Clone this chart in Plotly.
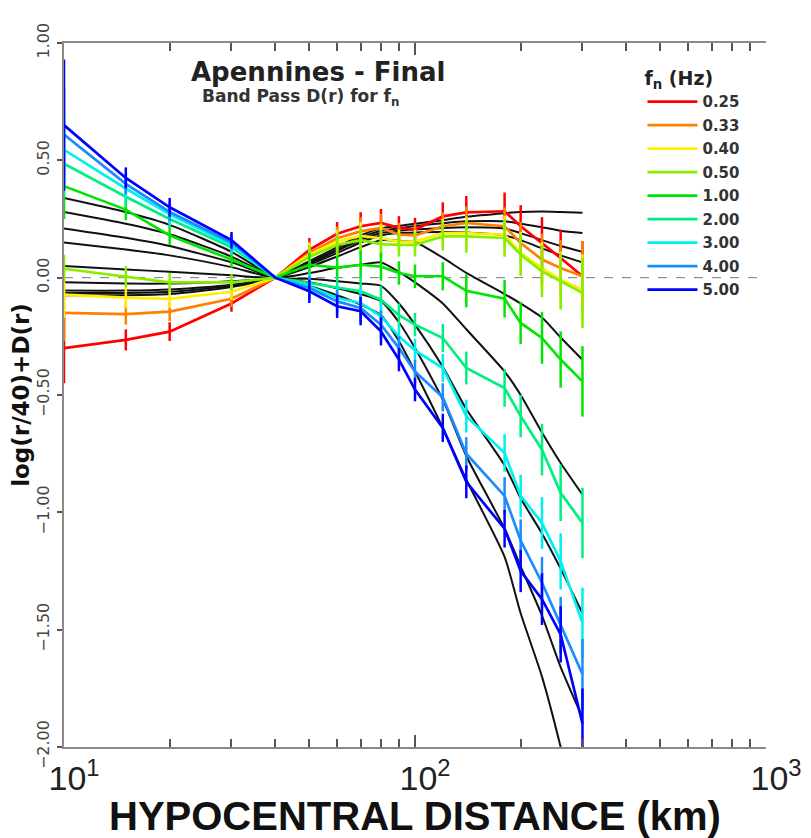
import plotly.graph_objects as go

# ---------------- data ----------------
distance_km = [10, 15, 20, 30, 40, 50, 60, 70, 80, 90, 100, 120, 140, 180, 200, 230, 260, 300]

freq_labels = ["0.25", "0.33", "0.40", "0.50", "1.00", "2.00", "3.00", "4.00", "5.00"]
freq_colors = ["#ff0000", "#ff8000", "#ffee00", "#88ee00", "#00e600", "#00f080", "#00f0f0", "#1a8cff", "#0000ff"]

obs_025 = [-0.30, -0.265, -0.23, -0.11, 0, 0.119, 0.187, 0.219, 0.233, 0.212, 0.205, 0.261, 0.278, 0.283, 0.219, 0.148, 0.084, 0.006]
obs_033 = [-0.15, -0.155, -0.145, -0.09, 0, 0.105, 0.168, 0.197, 0.212, 0.183, 0.18, 0.219, 0.233, 0.219, 0.148, 0.077, 0.041, 0.006]
obs_040 = [-0.072, -0.085, -0.09, -0.06, 0, 0.098, 0.154, 0.178, 0.168, 0.154, 0.154, 0.19, 0.19, 0.183, 0.105, 0.041, -0.009, -0.051]
obs_050 = [0.038, 0.004, -0.02, -0.02, 0, 0.088, 0.14, 0.16, 0.143, 0.14, 0.14, 0.176, 0.176, 0.169, 0.098, 0.027, -0.016, -0.065]
obs_100 = [0.39, 0.29, 0.18, 0.077, 0, 0.055, 0.043, 0.055, 0.047, 0.02, 0.006, 0.006, -0.056, -0.09, -0.193, -0.257, -0.349, -0.442]
obs_200 = [0.486, 0.345, 0.25, 0.13, 0, -0.023, -0.044, -0.058, -0.094, -0.16, -0.20, -0.257, -0.385, -0.47, -0.59, -0.733, -0.917, -1.045]
obs_300 = [0.545, 0.38, 0.27, 0.14, 0, -0.037, -0.087, -0.108, -0.165, -0.25, -0.31, -0.385, -0.59, -0.747, -0.93, -1.045, -1.209, -1.471]
obs_400 = [0.61, 0.40, 0.28, 0.15, 0, -0.044, -0.101, -0.129, -0.20, -0.30, -0.40, -0.51, -0.75, -0.93, -1.12, -1.30, -1.48, -1.69]
obs_500 = [0.65, 0.425, 0.30, 0.16, 0, -0.058, -0.122, -0.143, -0.229, -0.349, -0.477, -0.64, -0.87, -1.07, -1.25, -1.37, -1.52, -1.90]
observed = [obs_025, obs_033, obs_040, obs_050, obs_100, obs_200, obs_300, obs_400, obs_500]

# standard errors at each distance (first node differs per frequency)
err_nodes = [0.0, 0.045, 0.04, 0.035, 0.0, 0.05, 0.05, 0.06, 0.06, 0.05, 0.05, 0.06, 0.07, 0.08, 0.09, 0.11, 0.12, 0.15]
err_first = [0.15, 0.12, 0.10, 0.06, 0.14, 0.14, 0.15, 0.20, 0.28]

# model curves (black)
mod_025 = [-0.075, -0.075, -0.07, -0.04, 0, 0.07, 0.13, 0.18, 0.21, 0.22, 0.23, 0.245, 0.26, 0.275, 0.28, 0.282, 0.28, 0.277]
mod_033 = [-0.065, -0.065, -0.06, -0.035, 0, 0.065, 0.12, 0.17, 0.20, 0.21, 0.22, 0.232, 0.24, 0.24, 0.23, 0.215, 0.20, 0.19]
mod_040 = [-0.055, -0.055, -0.05, -0.03, 0, 0.06, 0.115, 0.16, 0.19, 0.20, 0.205, 0.212, 0.215, 0.21, 0.19, 0.16, 0.135, 0.11]
mod_050 = [-0.02, -0.025, -0.025, -0.015, 0, 0.055, 0.105, 0.15, 0.18, 0.19, 0.193, 0.195, 0.192, 0.18, 0.16, 0.125, 0.095, 0.065]
mod_100 = [0.05, 0.035, 0.025, 0.01, 0, 0.045, 0.09, 0.13, 0.16, 0.157, 0.152, 0.085, 0.02, -0.07, -0.11, -0.17, -0.255, -0.35]
mod_200 = [0.15, 0.12, 0.095, 0.045, 0, 0.02, 0.042, 0.055, 0.065, 0.025, -0.02, -0.11, -0.22, -0.40, -0.50, -0.66, -0.79, -0.925]
mod_300 = [0.21, 0.17, 0.135, 0.065, 0, -0.005, -0.015, -0.025, -0.035, -0.11, -0.20, -0.38, -0.56, -0.80, -0.94, -1.09, -1.24, -1.43]
mod_400 = [0.28, 0.23, 0.185, 0.09, 0, -0.02, -0.045, -0.07, -0.10, -0.19, -0.30, -0.52, -0.76, -1.07, -1.23, -1.44, -1.66, -1.875]
mod_500 = [0.34, 0.28, 0.225, 0.11, 0, -0.035, -0.075, -0.115, -0.16, -0.27, -0.40, -0.64, -0.86, -1.19, -1.43, -1.70, -2.00, -2.40]
models = [mod_025, mod_033, mod_040, mod_050, mod_100, mod_200, mod_300, mod_400, mod_500]

x_tick_vals = [10, 100, 1000]
x_tick_text = ["10<sup>1</sup>", "10<sup>2</sup>", "10<sup>3</sup>"]
x_minor_vals = [20, 30, 40, 50, 60, 70, 80, 90, 200, 300, 400, 500, 600, 700, 800, 900]
y_tick_vals = [-2.0, -1.5, -1.0, -0.5, 0.0, 0.5, 1.0]

# ---------------- figure ----------------
fig = go.Figure()

for m in models:
    fig.add_trace(go.Scatter(
        x=distance_km, y=m, mode="lines",
        line=dict(color="#111111", width=2, shape="spline", smoothing=0.6),
        showlegend=False, hoverinfo="skip"))

for lab, col, obs, e0 in zip(freq_labels, freq_colors, observed, err_first):
    errs = [e0] + err_nodes[1:]
    fig.add_trace(go.Scatter(
        x=distance_km, y=obs, mode="lines", name=lab, legendgroup=lab,
        line=dict(color=col, width=2.7),
        error_y=dict(type="data", array=errs, visible=True, color=col, thickness=2.5, width=0)))

fig.add_hline(y=0, line=dict(color="#777777", width=1, dash="dash"), layer="below")

# the page body adds an 8px offset; figure is sized so the plot lands where the reference has it
axis_col = "#8a8a8a"
fig.update_layout(
    width=803, height=830,
    margin=dict(l=56, r=45, t=35, b=91),
    paper_bgcolor="white", plot_bgcolor="white",
    font=dict(family="Liberation Sans", color="#222222"),
    xaxis=dict(
        type="log", range=[1, 3], automargin=False,
        tickmode="array", tickvals=x_tick_vals, ticktext=x_tick_text,
        ticks="inside", ticklen=12, tickwidth=1.5, tickcolor="#555555",
        minor=dict(tickvals=x_minor_vals, ticks="inside", ticklen=8, tickwidth=1.5, tickcolor="#555555"),
        showline=True, linecolor=axis_col, linewidth=2, mirror="ticks",
        showgrid=False, zeroline=False,
        tickfont=dict(family="Liberation Sans", size=34, color="#222222"),
        ticklabelshift=10, ticklabelstandoff=0,
    ),
    yaxis=dict(
        range=[-2, 1], automargin=False,
        tickmode="array", tickvals=y_tick_vals, tickformat=".2f",
        ticks="outside", ticklen=5, tickwidth=1.5, tickcolor="#555555", tickangle=-90,
        showline=True, linecolor=axis_col, linewidth=2,
        showgrid=False, zeroline=False,
        tickfont=dict(family="DejaVu Sans", size=16, color="#444444"),
        ticklabelstandoff=2,
        title=dict(text="log(r/40)+D(r)", standoff=4,
                   font=dict(family="DejaVu Sans", size=23, weight="bold", color="#111111")),
    ),
    yaxis2=dict(
        range=[-2, 1], overlaying="y", side="right", anchor="x", automargin=False,
        tickmode="array", tickvals=y_tick_vals,
        ticks="inside", ticklen=7, tickwidth=1.5, tickcolor="#555555",
        showticklabels=False, showline=True, linecolor=axis_col, linewidth=2,
        showgrid=False, zeroline=False,
    ),
    legend=dict(
        x=0.824, xanchor="left", y=0.975, yanchor="top",
        bgcolor="rgba(0,0,0,0)", borderwidth=0,
        tracegroupgap=1, itemwidth=50,
        font=dict(family="DejaVu Sans", size=15, weight="bold", color="#333333"),
        title=dict(text="f<sub>n</sub> (Hz)", side="top",
                   font=dict(family="DejaVu Sans", size=19, weight="bold", color="#222222")),
    ),
    showlegend=True,
)

fig.add_annotation(xref="paper", yref="paper", x=0.362, y=0.959,
                   xanchor="center", yanchor="middle",
                   text="Apennines - Final", showarrow=False,
                   font=dict(family="DejaVu Sans", size=26, weight="bold", color="#222222"))
fig.add_annotation(xref="paper", yref="paper", x=0.337, y=0.922, xanchor="center", yanchor="middle",
                   text="Band Pass D(r) for f<sub>n</sub>", showarrow=False,
                   font=dict(family="DejaVu Sans", size=17, weight="bold", color="#333333"))
# x-axis title
fig.add_annotation(xref="paper", yref="paper", x=0.5, y=-0.098, xanchor="center", yanchor="middle",
                   text="HYPOCENTRAL DISTANCE (km)", showarrow=False,
                   font=dict(family="Liberation Sans", size=40, weight="bold", color="#111111"))

fig.write_html("out.html")
